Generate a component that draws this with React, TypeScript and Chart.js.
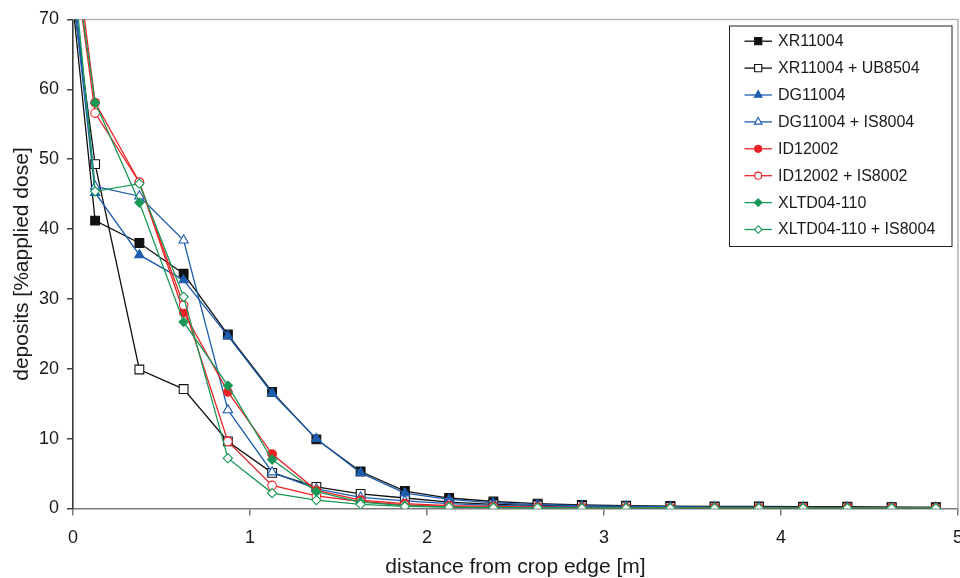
import React, { useEffect, useRef } from 'react';
import { Chart, registerables } from 'chart.js';

Chart.register(...registerables);

// ---- data ----
const distances = [0, 0.125, 0.375, 0.625, 0.875, 1.125, 1.375, 1.625, 1.875, 2.125, 2.375, 2.625, 2.875, 3.125, 3.375, 3.625, 3.875, 4.125, 4.375, 4.625, 4.875];

const seriesLabels = [
  'XR11004',
  'XR11004 + UB8504',
  'DG11004',
  'DG11004 + IS8004',
  'ID12002',
  'ID12002 + IS8002',
  'XLTD04-110',
  'XLTD04-110 + IS8004',
];

const xr11004 = [72, 41.2, 38.0, 33.6, 24.9, 16.7, 9.9, 5.3, 2.5, 1.5, 1.0, 0.7, 0.5, 0.4, 0.35, 0.3, 0.3, 0.25, 0.25, 0.2, 0.2];
const xr11004Ub8504 = [73, 49.3, 19.9, 17.1, 9.6, 5.1, 3.1, 2.1, 1.5, 0.9, 0.6, 0.45, 0.35, 0.3, 0.25, 0.2, 0.2, 0.15, 0.15, 0.15, 0.1];
const dg11004 = [74, 45.2, 36.3, 32.7, 24.7, 16.5, 10.0, 5.1, 2.2, 1.3, 0.8, 0.55, 0.4, 0.3, 0.25, 0.2, 0.2, 0.15, 0.15, 0.1, 0.1];
const dg11004Is8004 = [76, 46.1, 44.7, 38.4, 14.1, 5.2, 2.8, 1.6, 1.1, 0.7, 0.45, 0.3, 0.25, 0.2, 0.15, 0.1, 0.1, 0.1, 0.1, 0.1, 0.1];
const id12002 = [83, 58.1, 46.7, 28.1, 16.7, 7.8, 2.6, 1.2, 0.7, 0.4, 0.3, 0.2, 0.15, 0.1, 0.1, 0.1, 0.1, 0.1, 0.1, 0.1, 0.1];
const id12002Is8002 = [80, 56.6, 46.7, 29.1, 9.6, 3.3, 1.8, 1.0, 0.5, 0.3, 0.2, 0.15, 0.1, 0.1, 0.1, 0.05, 0.05, 0.05, 0.05, 0.05, 0.05];
const xltd04110 = [80, 58.1, 43.8, 26.7, 17.6, 7.0, 2.4, 0.9, 0.4, 0.2, 0.15, 0.1, 0.1, 0.1, 0.1, 0.05, 0.05, 0.05, 0.05, 0.05, 0.05];
const xltd04110Is8004 = [78, 45.4, 46.5, 30.3, 7.2, 2.2, 1.2, 0.6, 0.3, 0.2, 0.1, 0.1, 0.05, 0.05, 0.05, 0.05, 0.05, 0.05, 0.05, 0.05, 0.05];

const seriesValues = [xr11004, xr11004Ub8504, dg11004, dg11004Is8004, id12002, id12002Is8002, xltd04110, xltd04110Is8004];

const xTicks = [0, 1, 2, 3, 4, 5];
const yTicks = [0, 10, 20, 30, 40, 50, 60, 70];

// ---- styles ----
const BLACK = '#111111';
const BLUE = '#1d5dae';
const RED = '#ec2326';
const GREEN = '#1a9858';

type Style = { color: string; shape: string; filled: boolean; r: number };
const styles: Style[] = [
  { color: BLACK, shape: 'rect', filled: true, r: 6.2 },
  { color: BLACK, shape: 'rect', filled: false, r: 6.2 },
  { color: BLUE, shape: 'triangle', filled: true, r: 5.4 },
  { color: BLUE, shape: 'triangle', filled: false, r: 5.4 },
  { color: RED, shape: 'circle', filled: true, r: 4.3 },
  { color: RED, shape: 'circle', filled: false, r: 4.3 },
  { color: GREEN, shape: 'rectRot', filled: true, r: 4.6 },
  { color: GREEN, shape: 'rectRot', filled: false, r: 4.6 },
];

const FONT = '"Liberation Sans", Arial, Helvetica, sans-serif';
const TEXT = '#1a1a1a';

function drawMarker(ctx: CanvasRenderingContext2D, s: Style, x: number, y: number, r: number) {
  ctx.beginPath();
  if (s.shape === 'rect') {
    const h = Math.SQRT1_2 * r;
    ctx.rect(x - h, y - h, 2 * h, 2 * h);
  } else if (s.shape === 'triangle') {
    for (let k = 0; k < 3; k++) {
      const a = (k * 2 * Math.PI) / 3;
      const px = x + Math.sin(a) * r;
      const py = y - Math.cos(a) * r;
      if (k === 0) ctx.moveTo(px, py);
      else ctx.lineTo(px, py);
    }
    ctx.closePath();
  } else if (s.shape === 'circle') {
    ctx.arc(x, y, r, 0, Math.PI * 2);
  } else {
    ctx.moveTo(x, y - r);
    ctx.lineTo(x + r, y);
    ctx.lineTo(x, y + r);
    ctx.lineTo(x - r, y);
    ctx.closePath();
  }
  ctx.fillStyle = s.filled ? s.color : '#ffffff';
  ctx.fill();
  ctx.lineWidth = 1.1;
  ctx.strokeStyle = s.color;
  ctx.stroke();
}

const frameAndLegend = {
  id: 'frameAndLegend',
  beforeDatasetsDraw(chart: any) {
    const { ctx, chartArea } = chart;
    ctx.save();
    ctx.strokeStyle = '#b4b4b4';
    ctx.lineWidth = 1.6;
    ctx.beginPath();
    ctx.moveTo(chartArea.left, chartArea.top);
    ctx.lineTo(chartArea.right, chartArea.top);
    ctx.lineTo(chartArea.right, chartArea.bottom);
    ctx.stroke();
    ctx.restore();
  },
  afterDraw(chart: any) {
    const { ctx, chartArea } = chart;
    ctx.save();
    const boxW = 222.5;
    const boxH = 220.5;
    const left = chartArea.right - 6 - boxW;
    const top = chartArea.top + 6.5;
    ctx.fillStyle = '#ffffff';
    ctx.fillRect(left, top, boxW, boxH);
    ctx.strokeStyle = '#222222';
    ctx.lineWidth = 1;
    ctx.strokeRect(left, top, boxW, boxH);
    ctx.font = `16px ${FONT}`;
    ctx.textBaseline = 'middle';
    ctx.textAlign = 'left';
    seriesLabels.forEach((label, i) => {
      const s = styles[i];
      const y = top + 15.2 + i * 26.9;
      ctx.strokeStyle = s.color;
      ctx.lineWidth = 1.3;
      ctx.beginPath();
      ctx.moveTo(left + 15, y);
      ctx.lineTo(left + 42.5, y);
      ctx.stroke();
      drawMarker(ctx, s, left + 28.7, y, s.r * 0.82);
      ctx.fillStyle = TEXT;
      ctx.fillText(label, left + 48.5, y + 0.5);
    });
    ctx.restore();
  },
};

export default function App() {
  const canvasRef = useRef<HTMLCanvasElement | null>(null);

  useEffect(() => {
    if (!canvasRef.current) return;
    const n = seriesValues.length;
    const datasets = seriesValues.map((vals, i) => {
      const s = styles[i];
      return {
        label: seriesLabels[i],
        data: vals.map((v, j) => ({ x: distances[j], y: v })),
        borderColor: s.color,
        borderWidth: 1.3,
        backgroundColor: s.filled ? s.color : '#ffffff',
        pointBackgroundColor: s.filled ? s.color : '#ffffff',
        pointBorderColor: s.color,
        pointBorderWidth: 1.1,
        pointStyle: s.shape,
        pointRadius: (c: any) => (c.dataIndex === 0 ? 0 : s.r),
        pointHoverRadius: (c: any) => (c.dataIndex === 0 ? 0 : s.r),
        tension: 0,
        fill: false,
        order: n - i,
      };
    });

    const chart = new Chart(canvasRef.current, {
      type: 'line',
      data: { datasets },
      options: {
        animation: false,
        responsive: false,
        maintainAspectRatio: false,
        events: [],
        layout: { autoPadding: false, padding: { top: 19.5, right: 2, left: 0, bottom: 0 } },
        plugins: {
          legend: { display: false },
          tooltip: { enabled: false },
        },
        scales: {
          x: {
            type: 'linear',
            min: 0,
            max: 5,
            afterBuildTicks: (scale: any) => {
              scale.ticks = xTicks.map((v) => ({ value: v }));
            },
            afterFit: (scale: any) => {
              scale.height = 69.5;
              scale.paddingLeft = 0;
              scale.paddingRight = 0;
            },
            ticks: {
              font: { family: FONT, size: 18 },
              color: TEXT,
              padding: 12,
              maxRotation: 0,
              autoSkip: false,
            },
            grid: {
              drawOnChartArea: false,
              drawTicks: true,
              tickLength: 7,
              color: '#7a7a7a',
              lineWidth: 1.5,
            },
            border: { display: true, color: '#7a7a7a', width: 1.6 },
            title: {
              display: true,
              text: 'distance from crop edge [m]',
              font: { family: FONT, size: 21, lineHeight: 1 },
              color: TEXT,
              padding: { top: 0, bottom: 0 },
            },
          },
          y: {
            type: 'linear',
            min: 0,
            max: 70,
            afterBuildTicks: (scale: any) => {
              scale.ticks = yTicks.map((v) => ({ value: v }));
            },
            afterFit: (scale: any) => {
              scale.width = 73;
              scale.paddingTop = 0;
              scale.paddingBottom = 0;
            },
            ticks: {
              font: { family: FONT, size: 18 },
              color: TEXT,
              padding: 8,
              autoSkip: false,
            },
            grid: {
              drawOnChartArea: false,
              drawTicks: true,
              tickLength: 6,
              color: '#444444',
              lineWidth: 1.5,
            },
            border: { display: true, color: '#3a3a3a', width: 1.6 },
            title: {
              display: true,
              text: 'deposits [%applied dose]',
              font: { family: FONT, size: 21, lineHeight: 1 },
              color: TEXT,
              padding: { top: 11.5, bottom: 0 },
            },
          },
        },
      },
      plugins: [frameAndLegend],
    } as any);

    return () => {
      chart.destroy();
    };
  }, []);

  return (
    <div style={{ position: 'absolute', left: 0, top: 0, width: 960, height: 578, background: '#ffffff' }}>
      <canvas ref={canvasRef} width={960} height={578} style={{ display: 'block', width: 960, height: 578 }} />
    </div>
  );
}
